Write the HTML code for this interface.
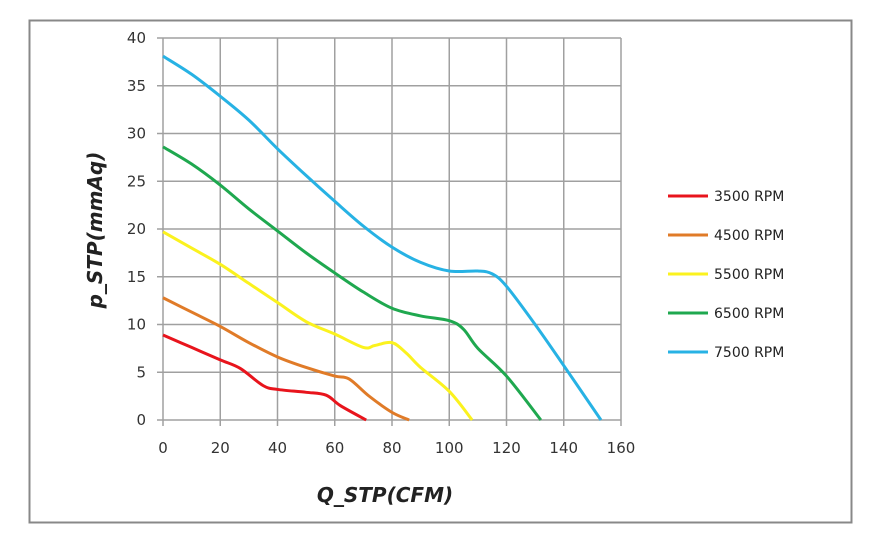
<!DOCTYPE html>
<html><head><meta charset="utf-8"><style>
body{margin:0;background:#fff;}
svg{display:block;font-family:"DejaVu Sans","Liberation Sans",sans-serif;}
</style></head><body>
<svg id="c" width="885" height="545">
<rect x="29.5" y="20.5" width="822" height="502" fill="#fff" stroke="#888" stroke-width="2"/>
<g id="grid"></g><g id="series"></g><g id="legend"></g>
<text x="385" y="502" font-size="20" font-weight="bold" font-style="italic" text-anchor="middle" fill="#222">Q_STP(CFM)</text>
<text transform="translate(102,230) rotate(-90)" font-size="20" font-weight="bold" font-style="italic" text-anchor="middle" fill="#222">p_STP(mmAq)</text>
</svg>
<script>
const xTicks=[0,20,40,60,80,100,120,140,160];
const yTicks=[0,5,10,15,20,25,30,35,40];
const seriesNames=["3500 RPM","4500 RPM","5500 RPM","6500 RPM","7500 RPM"];
const seriesColors=["#e8141c","#e07b28","#fbf21e","#1fa84f","#27b2e4"];
const rpm3500=[[0,8.9],[10,7.6],[20,6.3],[27,5.4],[35,3.6],[40,3.2],[50,2.9],[57,2.6],[62,1.5],[71,0]];
const rpm4500=[[0,12.8],[10,11.3],[20,9.8],[30,8.1],[40,6.6],[50,5.5],[60,4.6],[65,4.3],[72,2.5],[80,0.8],[86,0]];
const rpm5500=[[0,19.7],[10,18],[20,16.3],[30,14.3],[40,12.3],[50,10.3],[60,9.0],[70,7.6],[74,7.8],[80,8.1],[85,7],[90,5.5],[100,3],[108,0]];
const rpm6500=[[0,28.6],[10,26.8],[20,24.6],[30,22.1],[40,19.8],[50,17.5],[60,15.4],[70,13.4],[80,11.7],[90,10.9],[100,10.4],[105,9.5],[110,7.5],[120,4.6],[132,0]];
const rpm7500=[[0,38.1],[10,36.2],[20,33.9],[30,31.4],[40,28.4],[50,25.6],[60,22.9],[70,20.3],[80,18.1],[90,16.5],[100,15.6],[110,15.6],[115,15.3],[120,14],[130,10],[140,5.7],[153,0]];
const allSeries=[rpm3500,rpm4500,rpm5500,rpm6500,rpm7500];
const NS="http://www.w3.org/2000/svg";
const X0=163,X1=621,Y0=420,Y1=38;
const sx=v=>X0+(v-0)/(160)*(X1-X0);
const sy=v=>Y0-(v/40)*(Y0-Y1);
function mk(t,a,p){const e=document.createElementNS(NS,t);for(const k in a)e.setAttribute(k,a[k]);p.appendChild(e);return e;}
const g=document.getElementById('grid');
xTicks.forEach(t=>{
 const l=mk('line',{x1:sx(t),x2:sx(t),y1:Y1,y2:Y0+6,stroke:'#a0a0a0','stroke-width':1.5},g);
 
 
 const tx=mk('text',{x:sx(t),y:Y0+33,'font-size':15,'text-anchor':'middle',fill:'#333'},g);
 tx.textContent=t;
 
 
});
yTicks.forEach(t=>{
 const l=mk('line',{x1:X0-6,x2:X1,y1:sy(t),y2:sy(t),stroke:'#a0a0a0','stroke-width':1.5},g);
 
 
 const tx=mk('text',{x:146,y:sy(t)+5,'font-size':15,'text-anchor':'end',fill:'#333'},g);
 tx.textContent=t;
 
 
});
function smooth(pts){
 let d=`M${pts[0][0]},${pts[0][1]}`;
 for(let i=0;i<pts.length-1;i++){
  const p0=pts[i-1]||pts[i],p1=pts[i],p2=pts[i+1],p3=pts[i+2]||p2;
  const c1=[p1[0]+(p2[0]-p0[0])/6,p1[1]+(p2[1]-p0[1])/6];
  const c2=[p2[0]-(p3[0]-p1[0])/6,p2[1]-(p3[1]-p1[1])/6];
  d+=`C${c1[0]},${c1[1]} ${c2[0]},${c2[1]} ${p2[0]},${p2[1]}`;
 }
 return d;
}
const s=document.getElementById('series'),lg=document.getElementById('legend');
allSeries.forEach((data,i)=>{
 const pts=data.map(p=>[sx(p[0]),sy(p[1])]);
 const p=mk('path',{d:smooth(pts),fill:'none',stroke:seriesColors[i],'stroke-width':3,'stroke-linejoin':'round'},s);
 
 
 const y=196+i*39;
 const l=mk('line',{x1:668,x2:708,y1:y,y2:y,stroke:seriesColors[i],'stroke-width':3},lg);
 
 
 const t=mk('text',{x:714,y:y+5,'font-size':14,fill:'#222'},lg);
 t.textContent=seriesNames[i];
 
 
});
</script>
</body></html>
